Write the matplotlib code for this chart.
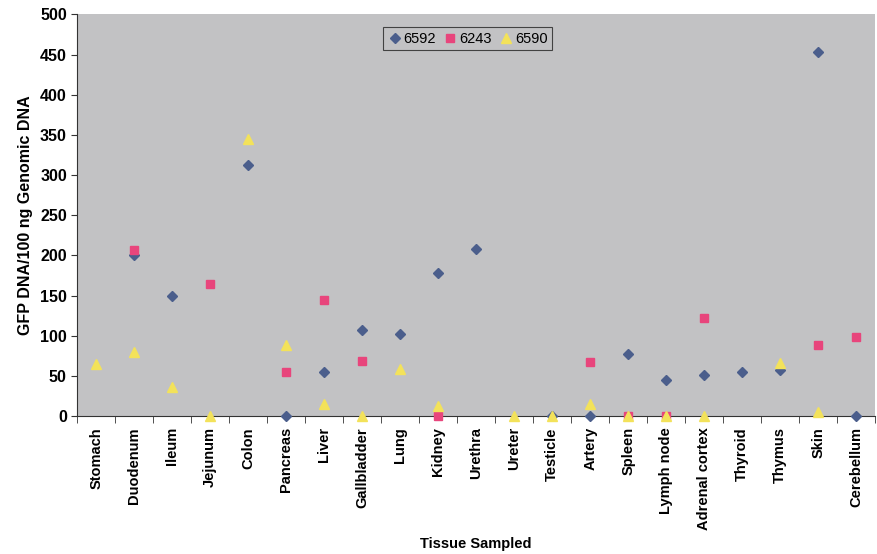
import numpy as np
import matplotlib.pyplot as plt

plt.rcParams['font.family'] = ['Liberation Sans', 'DejaVu Sans']

tissues = ['Stomach', 'Duodenum', 'Ileum', 'Jejunum', 'Colon', 'Pancreas', 'Liver',
           'Gallbladder', 'Lung', 'Kidney', 'Urethra', 'Ureter', 'Testicle', 'Artery',
           'Spleen', 'Lymph node', 'Adrenal cortex', 'Thyroid', 'Thymus', 'Skin', 'Cerebellum']

nan = np.nan
s6592 = [nan, 200, 150, nan, 312, 0, 55, 107, 102, 178, 208, nan, 0, 0, 77, 45, 51, 55, 57, 453, 0]
s6243 = [nan, 207, nan, 165, nan, 55, 145, 69, nan, 0, nan, nan, nan, 67, 0, 0, 122, nan, nan, 88, 98]
s6590 = [65, 80, 36, 0, 345, 88, 15, 0, 58, 13, nan, 0, 0, 15, 0, 0, 0, nan, 66, 5, nan]

fig = plt.figure(figsize=(8.78, 5.54), dpi=100)
ax = fig.add_axes([0.088, 0.249, 0.909, 0.725])
ax.set_facecolor('#c2c2c4')

x = np.arange(len(tissues))
ax.plot(x, s6592, linestyle='none', marker='D', markersize=5.5, color='#4b5e8c',
        label='6592', clip_on=False, zorder=3)
ax.plot(x, s6243, linestyle='none', marker='s', markersize=6, color='#e8457c',
        label='6243', clip_on=False, zorder=3)
ax.plot(x, s6590, linestyle='none', marker='^', markersize=6.5, color='#f3e25a',
        label='6590', clip_on=False, zorder=3)

ax.set_xlim(-0.5, len(tissues) - 0.5)
ax.set_ylim(0, 500)
ax.set_yticks(range(0, 501, 50))
ax.set_xticks(x)
ax.set_xticklabels(tissues, rotation=90, fontsize=10.5, fontweight='bold')
ax.set_xticks(np.arange(-0.5, len(tissues)), minor=True)
ax.tick_params(axis='x', which='major', length=0, pad=8)
ax.tick_params(axis='x', which='minor', length=5, direction='out', color='#333333')
ax.tick_params(axis='y', length=4, direction='out', labelsize=11.5, color='#333333')
for lbl in ax.get_yticklabels():
    lbl.set_fontweight('bold')

for side in ['top', 'right']:
    ax.spines[side].set_visible(False)
for side in ['left', 'bottom']:
    ax.spines[side].set_color('#333333')

ax.set_ylabel('GFP DNA/100 ng Genomic DNA', fontsize=11.5, fontweight='bold', labelpad=5)
fig.text(0.542, 0.01, 'Tissue Sampled', ha='center', fontsize=10.5, fontweight='bold')

leg = ax.legend(loc='upper left', bbox_to_anchor=(0.383, 0.968), borderaxespad=0, ncol=3,
                frameon=True, fancybox=False, edgecolor='#222222', facecolor='#c2c2c4',
                handletextpad=0.1, columnspacing=0.5, borderpad=0.3, handlelength=1.0,
                prop={'size': 10.5})
leg.get_frame().set_linewidth(0.8)

fig.savefig('out.png', dpi=100)
